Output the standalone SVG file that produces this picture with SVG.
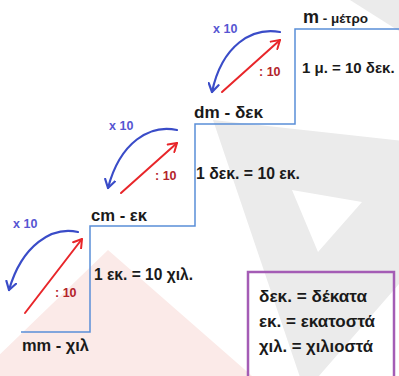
<svg xmlns="http://www.w3.org/2000/svg" width="399" height="376" viewBox="0 0 399 376">
<style>
.lbl{font-family:"Liberation Sans",Arial,sans-serif;font-weight:bold;fill:#1a1a1a}
.big{font-size:17px}
.rel{font-size:17px}
.leg{font-size:17px}
.x10{font-family:"Liberation Sans",Arial,sans-serif;font-weight:bold;font-size:12.5px;fill:#5656d2}
.d10{font-family:"Liberation Sans",Arial,sans-serif;font-weight:bold;font-size:12.5px;fill:#b3232b}
.stair{fill:none;stroke:#5a8ed8;stroke-width:1.5}
.blue{fill:none;stroke:#3a4cc8;stroke-width:2.2;stroke-linecap:round}
.red{fill:none;stroke:#e8262a;stroke-width:2;stroke-linecap:round}
</style>
<defs>
<marker id="hb" markerWidth="12" markerHeight="12" refX="9" refY="6" orient="auto" markerUnits="userSpaceOnUse">
<path d="M1,1 L9,6 L1,11" fill="none" stroke="#3a4cc8" stroke-width="2.2" stroke-linecap="round" stroke-linejoin="round"/>
</marker>
<marker id="hr" markerWidth="12" markerHeight="12" refX="9" refY="6" orient="auto" markerUnits="userSpaceOnUse">
<path d="M1,1 L9,6 L1,11" fill="none" stroke="#e8262a" stroke-width="2" stroke-linecap="round" stroke-linejoin="round"/>
</marker>
</defs>
<rect width="399" height="376" fill="#ffffff"/>
<g id="watermark">
<polygon points="108,250 -10,364 -10,376 252,376" fill="#fbeae8"/>
<path d="M213,120 L513,153 L305,392 Z M292,190 L318,252 L362,202 Z" fill="#ebebeb" fill-rule="evenodd"/>
<polygon points="350,0 399,0 399,31" fill="#ebebeb"/>
</g>
<g id="connectors">
<path class="stair" d="M21,332 H90 V226 H195 V124 H295 V29 H399"/>
<path class="blue" d="M78,232 C52,226 22,245 9,290" marker-end="url(#hb)"/>
<path class="red" d="M25,313 L82,239" marker-end="url(#hr)"/>
<path class="blue" d="M177,130 C150,124 120,142 108,188" marker-end="url(#hb)"/>
<path class="red" d="M121,193 L177,143" marker-end="url(#hr)"/>
<path class="blue" d="M280,32 C252,27 222,45 212,92" marker-end="url(#hb)"/>
<path class="red" d="M222,92 L280,40" marker-end="url(#hr)"/>
</g>
<g id="arrow-labels">
<text class="x10" x="13" y="228">x 10</text>
<text class="d10" x="55" y="297">: 10</text>
<text class="x10" x="109" y="130">x 10</text>
<text class="d10" x="155" y="180">: 10</text>
<text class="x10" x="213" y="33">x 10</text>
<text class="d10" x="259" y="76">: 10</text>
</g>
<g id="node-mm"><text class="lbl big" x="22" y="351" textLength="67" lengthAdjust="spacingAndGlyphs">mm - χιλ</text></g>
<g id="node-cm"><text class="lbl big" x="91" y="221" textLength="56" lengthAdjust="spacingAndGlyphs">cm - εκ</text></g>
<g id="node-dm"><text class="lbl big" x="194" y="118" textLength="69" lengthAdjust="spacingAndGlyphs">dm - δεκ</text></g>
<g id="node-m"><text class="lbl" x="303" y="23"><tspan font-size="18">m</tspan><tspan font-size="13.5"> - μέτρο</tspan></text></g>
<g id="rel-1"><text class="lbl rel" x="94" y="280" textLength="99" lengthAdjust="spacingAndGlyphs">1 εκ. = 10 χιλ.</text></g>
<g id="rel-2"><text class="lbl rel" x="196" y="179" textLength="104" lengthAdjust="spacingAndGlyphs">1 δεκ. = 10 εκ.</text></g>
<g id="rel-3"><text class="lbl" x="302" y="73" font-size="15">1 μ. = 10 δεκ.</text></g>
<g id="legend">
<rect x="248" y="272" width="146" height="120" fill="none" stroke="#a45cb5" stroke-width="2.5"/>
<text class="lbl leg" x="259" y="302" textLength="108" lengthAdjust="spacingAndGlyphs">δεκ. = δέκατα</text>
<text class="lbl leg" x="259" y="327" textLength="116" lengthAdjust="spacingAndGlyphs">εκ. = εκατοστά</text>
<text class="lbl leg" x="259" y="352" textLength="114" lengthAdjust="spacingAndGlyphs">χιλ. = χιλιοστά</text>
</g>
</svg>
